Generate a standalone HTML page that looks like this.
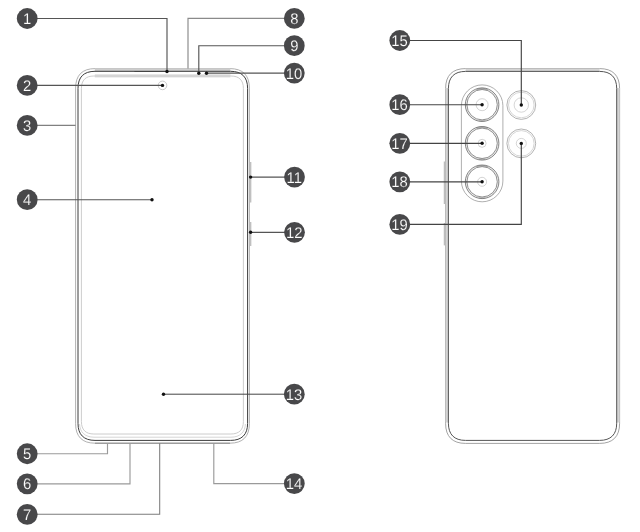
<!DOCTYPE html>
<html lang="en">
<head>
<meta charset="utf-8">
<title>Device layout</title>
<style>
html,body{margin:0;padding:0;background:#fff;}
body{width:640px;height:532px;overflow:hidden;}
svg{display:block;font-family:"Liberation Sans",sans-serif;}
</style>
</head>
<body>
<svg width="640" height="532" viewBox="0 0 640 532">
<rect width="640" height="532" fill="#fff"/>
<g id="front">
<path d="M95.1 68.6 H229.9 C242.77 68.6 249.4 75.23 249.4 88.1 V423.7 C249.4 436.57 242.77 443.2 229.9 443.2 H95.1 C82.23 443.2 75.6 436.57 75.6 423.7 V88.1 C75.6 75.23 82.23 68.6 95.1 68.6 Z" fill="#fff" stroke="#9c9c9c" stroke-width="0.8"/>
<rect x="94.8" y="68.3" width="135.6" height="3.4" fill="#cdcdcd"/>
<rect x="94.8" y="74.2" width="135.6" height="3.3" fill="#e0e0e0"/>
<path d="M95 71.3 H230.6 C241.82 71.3 247.6 77.08 247.6 88.3 V423.4 C247.6 434.62 241.82 440.4 230.6 440.4 H95 C83.78 440.4 78 434.62 78 423.4 V88.3 C78 77.08 83.78 71.3 95 71.3 Z" fill="none" stroke="#3c3c3c" stroke-width="1"/>
<path d="M93.9 76 H230.9 C239.15 76 243.4 80.25 243.4 88.5 V421.5 C243.4 429.75 239.15 434 230.9 434 H93.9 C85.65 434 81.4 429.75 81.4 421.5 V88.5 C81.4 80.25 85.65 76 93.9 76 Z" fill="none" stroke="#c6c6c6" stroke-width="0.9"/>
<line x1="134.4" y1="71.5" x2="167" y2="71.5" stroke="#444" stroke-width="1.2"/>
<path d="M79.6 424 C79.8 432 85 437.2 94 437.2 H231 C240 437.2 245.2 432 245.4 424" fill="none" stroke="#cacaca" stroke-width="0.8"/>
<line x1="95" y1="443.2" x2="230" y2="443.2" stroke="#7a7a7a" stroke-width="0.8"/>
<line x1="250.7" y1="162" x2="250.7" y2="202.5" stroke="#bdbdbd" stroke-width="1.3"/>
<line x1="250.7" y1="222" x2="250.7" y2="246" stroke="#bdbdbd" stroke-width="1.3"/>
<circle cx="162.5" cy="85.4" r="4.3" fill="#fff" stroke="#b5b5b5" stroke-width="0.7"/>
</g>
<g id="back">
<line x1="444.4" y1="161.5" x2="444.4" y2="204" stroke="#bdbdbd" stroke-width="1.3"/>
<line x1="444.4" y1="223" x2="444.4" y2="245.4" stroke="#bdbdbd" stroke-width="1.3"/>
<path d="M465.6 68.6 H599.6 C612.8 68.6 619.6 75.4 619.6 88.6 V423.4 C619.6 436.6 612.8 443.4 599.6 443.4 H465.6 C452.4 443.4 445.6 436.6 445.6 423.4 V88.6 C445.6 75.4 452.4 68.6 465.6 68.6 Z" fill="#fff" stroke="#8c8c8c" stroke-width="0.8"/>
<rect x="465.6" y="68.6" width="134" height="3" fill="#d4d4d4"/>
<rect x="445.6" y="88" width="2.9" height="334.5" fill="#d4d4d4"/>
<rect x="616.6" y="88" width="3" height="334.5" fill="#d4d4d4"/>
<path d="M465.6 71.4 H599.5 C610.85 71.4 616.7 77.25 616.7 88.6 V423.2 C616.7 434.55 610.85 440.4 599.5 440.4 H465.6 C454.25 440.4 448.4 434.55 448.4 423.2 V88.6 C448.4 77.25 454.25 71.4 465.6 71.4 Z" fill="none" stroke="#555" stroke-width="1"/>
<rect x="461.4" y="84.9" width="41.5" height="116.9" rx="20.75" ry="20.75" fill="none" stroke="#9a9a9a" stroke-width="0.8"/>
<circle cx="482.1" cy="104.7" r="16" fill="none" stroke="#ececec" stroke-width="1.6"/>
<path d="M476.6 89.67 A16 16 0 0 1 487.6 89.67" fill="none" stroke="#b4b4b4" stroke-width="1.6"/>
<path d="M478.6 120.31 A16 16 0 0 0 485.6 120.31" fill="none" stroke="#c4c4c4" stroke-width="1.6"/>
<circle cx="482.1" cy="104.7" r="16.8" fill="none" stroke="#6a6a6a" stroke-width="0.8"/>
<circle cx="482.1" cy="104.7" r="15.2" fill="none" stroke="#777" stroke-width="0.8"/>
<circle cx="482.1" cy="104.7" r="6" fill="none" stroke="#c0c0c0" stroke-width="0.7"/>
<circle cx="482.1" cy="143.3" r="16" fill="none" stroke="#ececec" stroke-width="1.6"/>
<path d="M476.6 128.27 A16 16 0 0 1 487.6 128.27" fill="none" stroke="#b4b4b4" stroke-width="1.6"/>
<path d="M478.6 158.91 A16 16 0 0 0 485.6 158.91" fill="none" stroke="#c4c4c4" stroke-width="1.6"/>
<circle cx="482.1" cy="143.3" r="16.8" fill="none" stroke="#6a6a6a" stroke-width="0.8"/>
<circle cx="482.1" cy="143.3" r="15.2" fill="none" stroke="#777" stroke-width="0.8"/>
<circle cx="482.1" cy="143.3" r="4" fill="none" stroke="#c0c0c0" stroke-width="0.7"/>
<circle cx="482.1" cy="181.8" r="16" fill="none" stroke="#ececec" stroke-width="1.6"/>
<path d="M476.6 166.77 A16 16 0 0 1 487.6 166.77" fill="none" stroke="#b4b4b4" stroke-width="1.6"/>
<path d="M478.6 197.41 A16 16 0 0 0 485.6 197.41" fill="none" stroke="#c4c4c4" stroke-width="1.6"/>
<circle cx="482.1" cy="181.8" r="16.8" fill="none" stroke="#6a6a6a" stroke-width="0.8"/>
<circle cx="482.1" cy="181.8" r="15.2" fill="none" stroke="#777" stroke-width="0.8"/>
<circle cx="482.1" cy="181.8" r="4.5" fill="none" stroke="#c0c0c0" stroke-width="0.7"/>
<circle cx="521.3" cy="105" r="14.4" fill="none" stroke="#a0a0a0" stroke-width="0.8"/>
<circle cx="521.3" cy="105" r="12.8" fill="none" stroke="#c4c4c4" stroke-width="0.7"/>
<circle cx="521.3" cy="105" r="7.2" fill="none" stroke="#c4c4c4" stroke-width="0.7"/>
<circle cx="521.3" cy="143.4" r="14.4" fill="none" stroke="#a0a0a0" stroke-width="0.8"/>
<circle cx="521.3" cy="143.4" r="12.8" fill="none" stroke="#c4c4c4" stroke-width="0.7"/>
<circle cx="521.3" cy="143.4" r="5" fill="none" stroke="#c4c4c4" stroke-width="0.7"/>
</g>
<g id="leaders">
<polyline points="27,18.5 167,18.5 167,71.5" fill="none" stroke="#555" stroke-width="1.15"/>
<circle cx="167" cy="71.5" r="1.7" fill="#111"/>
<polyline points="27,85.4 162.5,85.4" fill="none" stroke="#555" stroke-width="1.15"/>
<circle cx="162.5" cy="85.4" r="1.7" fill="#111"/>
<polyline points="27,125.4 75.6,125.4" fill="none" stroke="#808080" stroke-width="1.15"/>
<polyline points="27,199.7 152,199.7" fill="none" stroke="#555" stroke-width="1.15"/>
<circle cx="152" cy="199.7" r="1.7" fill="#111"/>
<polyline points="27,453.75 107.5,453.75 107.5,443.2" fill="none" stroke="#9a9a9a" stroke-width="1.15"/>
<polyline points="27,483.8 130,483.8 130,443.2" fill="none" stroke="#9a9a9a" stroke-width="1.15"/>
<polyline points="27,514.3 159.7,514.3 159.7,443.2" fill="none" stroke="#7c7c7c" stroke-width="1.05"/>
<polyline points="294,18.4 188,18.4 188,68.6" fill="none" stroke="#8a8a8a" stroke-width="1.15"/>
<polyline points="294,45.7 198.8,45.7 198.8,73.2" fill="none" stroke="#555" stroke-width="1.15"/>
<circle cx="198.8" cy="73.2" r="1.7" fill="#111"/>
<polyline points="294,73.1 206.5,73.1" fill="none" stroke="#555" stroke-width="1.15"/>
<circle cx="206.5" cy="73.2" r="1.7" fill="#111"/>
<polyline points="294,177.1 250.6,177.1" fill="none" stroke="#555" stroke-width="1.15"/>
<circle cx="250.6" cy="177.1" r="1.7" fill="#111"/>
<polyline points="294,232.3 250.6,232.3" fill="none" stroke="#555" stroke-width="1.15"/>
<circle cx="250.6" cy="232.3" r="1.7" fill="#111"/>
<polyline points="294,394.2 163.5,394.2" fill="none" stroke="#444" stroke-width="1"/>
<circle cx="163.5" cy="394.2" r="1.7" fill="#111"/>
<polyline points="294,483.6 213.8,483.6 213.8,443.2" fill="none" stroke="#9a9a9a" stroke-width="1.15"/>
<polyline points="400,40.5 521.3,40.5 521.3,105" fill="none" stroke="#444" stroke-width="1.15"/>
<circle cx="521.3" cy="105" r="1.7" fill="#111"/>
<polyline points="400,104.7 482.1,104.7" fill="none" stroke="#444" stroke-width="1.15"/>
<circle cx="482.1" cy="104.7" r="1.7" fill="#111"/>
<polyline points="400,143.3 482.1,143.3" fill="none" stroke="#444" stroke-width="1.15"/>
<circle cx="482.1" cy="143.3" r="1.7" fill="#111"/>
<polyline points="400,181.8 482.1,181.8" fill="none" stroke="#444" stroke-width="1.15"/>
<circle cx="482.1" cy="181.8" r="1.7" fill="#111"/>
<polyline points="400,224.4 521.3,224.4 521.3,143.4" fill="none" stroke="#444" stroke-width="1.15"/>
<circle cx="521.3" cy="143.4" r="1.7" fill="#111"/>
</g>
<g id="badges" font-size="15.3" text-rendering="geometricPrecision" fill="#fff" text-anchor="middle" stroke="#48484a" stroke-width="0.15" opacity="0.999">
<circle cx="27.2" cy="18.5" r="10.4" fill="#48484a" stroke="none"/>
<text transform="translate(27.2 23.9) scale(0.97 1)">1</text>
<circle cx="27.2" cy="85.4" r="10.4" fill="#48484a" stroke="none"/>
<text transform="translate(27.2 90.8) scale(0.97 1)">2</text>
<circle cx="27.2" cy="125.4" r="10.4" fill="#48484a" stroke="none"/>
<text transform="translate(27.2 130.8) scale(0.97 1)">3</text>
<circle cx="27.2" cy="199.7" r="10.4" fill="#48484a" stroke="none"/>
<text transform="translate(27.2 205.1) scale(0.97 1)">4</text>
<circle cx="27.2" cy="453.75" r="10.4" fill="#48484a" stroke="none"/>
<text transform="translate(27.2 459.15) scale(0.97 1)">5</text>
<circle cx="27.2" cy="483.8" r="10.4" fill="#48484a" stroke="none"/>
<text transform="translate(27.2 489.2) scale(0.97 1)">6</text>
<circle cx="27.2" cy="514.3" r="10.4" fill="#48484a" stroke="none"/>
<text transform="translate(27.2 519.7) scale(0.97 1)">7</text>
<circle cx="294.3" cy="18.4" r="10.4" fill="#48484a" stroke="none"/>
<text transform="translate(294.3 23.8) scale(0.97 1)">8</text>
<circle cx="294.3" cy="45.7" r="10.4" fill="#48484a" stroke="none"/>
<text transform="translate(294.3 51.1) scale(0.97 1)">9</text>
<circle cx="294.3" cy="73.1" r="10.4" fill="#48484a" stroke="none"/>
<text transform="translate(294.0 78.5) scale(0.97 1)" letter-spacing="0">10</text>
<circle cx="294.5" cy="177.1" r="10.4" fill="#48484a" stroke="none"/>
<text transform="translate(294.2 182.5) scale(0.97 1)" letter-spacing="0">11</text>
<circle cx="294.5" cy="232.3" r="10.4" fill="#48484a" stroke="none"/>
<text transform="translate(294.2 237.7) scale(0.97 1)" letter-spacing="0">12</text>
<circle cx="294.3" cy="394.2" r="10.4" fill="#48484a" stroke="none"/>
<text transform="translate(294.0 399.6) scale(0.97 1)" letter-spacing="0">13</text>
<circle cx="294.3" cy="483.6" r="10.4" fill="#48484a" stroke="none"/>
<text transform="translate(294.0 489.0) scale(0.97 1)" letter-spacing="0">14</text>
<circle cx="399.8" cy="40.5" r="10.4" fill="#48484a" stroke="none"/>
<text transform="translate(399.5 45.9) scale(0.97 1)" letter-spacing="0">15</text>
<circle cx="399.8" cy="104.7" r="10.4" fill="#48484a" stroke="none"/>
<text transform="translate(399.5 110.1) scale(0.97 1)" letter-spacing="0">16</text>
<circle cx="399.8" cy="143.3" r="10.4" fill="#48484a" stroke="none"/>
<text transform="translate(399.5 148.7) scale(0.97 1)" letter-spacing="0">17</text>
<circle cx="399.8" cy="181.8" r="10.4" fill="#48484a" stroke="none"/>
<text transform="translate(399.5 187.2) scale(0.97 1)" letter-spacing="0">18</text>
<circle cx="399.8" cy="224.4" r="10.4" fill="#48484a" stroke="none"/>
<text transform="translate(399.5 229.8) scale(0.97 1)" letter-spacing="0">19</text>
</g>
</svg>
</body>
</html>
